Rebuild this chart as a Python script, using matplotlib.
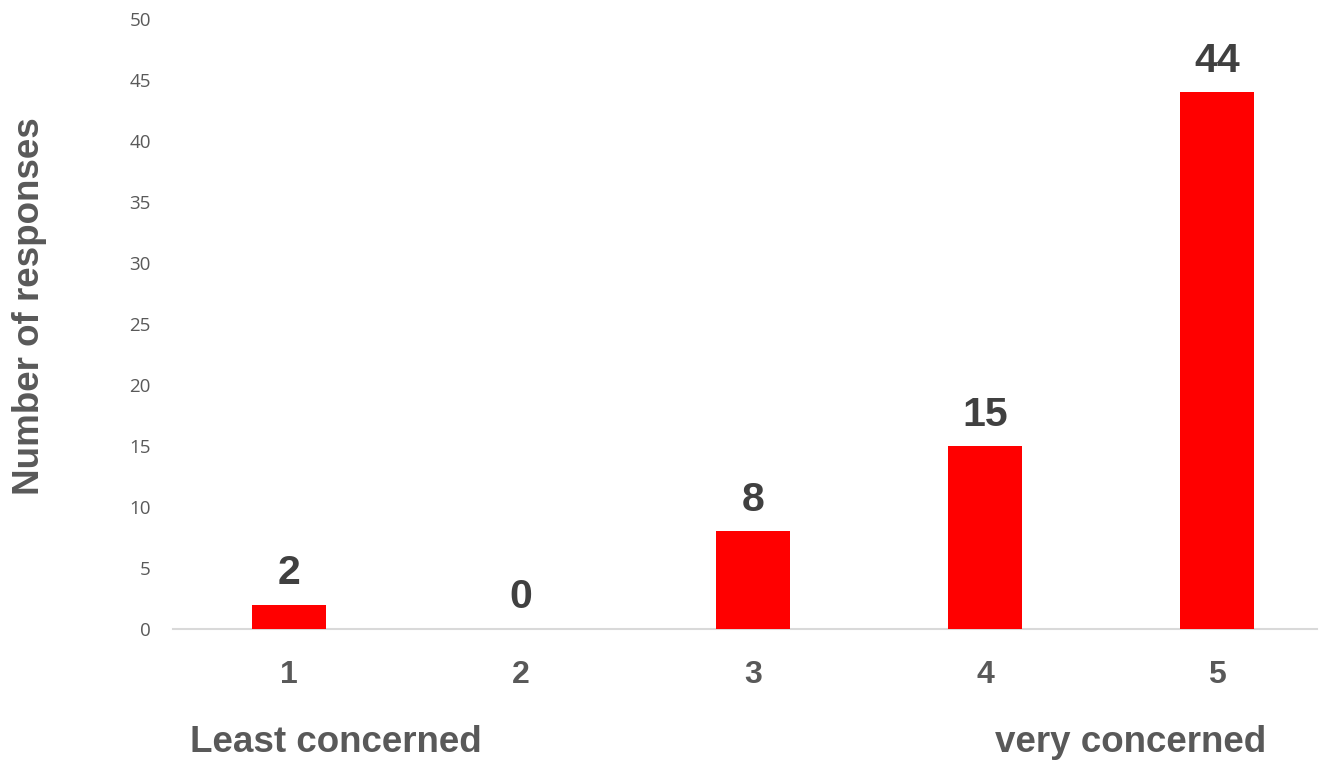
import matplotlib
matplotlib.use("Agg")
import matplotlib.pyplot as plt

categories = ["1", "2", "3", "4", "5"]
values = [2, 0, 8, 15, 44]
yticks = [0, 5, 10, 15, 20, 25, 30, 35, 40, 45, 50]

W, H = 1319, 761
fig = plt.figure(figsize=(W / 100, H / 100), dpi=100)
ax = fig.add_axes([173 / W, 1 - 629 / H, (1317 - 173) / W, (629 - 19) / H])

x = list(range(len(categories)))
bars = ax.bar(x, values, width=0.315, color="#ff0000", zorder=3)
ax.set_xlim(-0.5, (1317 - 289) / 232)
ax.set_ylim(0, 50)

for xi, v in zip(x, values):
    ax.annotate(str(v), (xi, v), xytext=(0, 9), textcoords="offset points",
                ha="center", va="bottom", fontsize=29.5, fontweight="bold",
                color="#404040", family="Liberation Sans")

ax.set_xticks(x)
ax.set_xticklabels(categories, fontsize=23, fontweight="bold", color="#595959",
                   family="Liberation Sans")
ax.set_yticks(yticks)
ax.set_yticklabels([str(t) for t in yticks], fontsize=13.5, color="#595959",
                   family="Open Sans")
ax.tick_params(axis="both", length=0)
ax.tick_params(axis="x", pad=22)
ax.tick_params(axis="y", pad=16)

for s in ["top", "right", "left"]:
    ax.spines[s].set_visible(False)
ax.spines["bottom"].set_color("#d9d9d9")
ax.spines["bottom"].set_linewidth(1.5)

fig.text(30 / W, 1 - 306 / H, "Number of responses", rotation=90, ha="center",
         va="center", fontsize=26.5, fontweight="bold", color="#595959",
         family="Liberation Sans")
fig.text(190 / W, 1 - 742 / H, "Least concerned", ha="left", va="center",
         fontsize=26.5, fontweight="bold", color="#595959", family="Liberation Sans")
fig.text(995 / W, 1 - 742 / H, "very concerned", ha="left", va="center",
         fontsize=26.5, fontweight="bold", color="#595959", family="Liberation Sans")

fig.savefig("out.png", dpi=100)
